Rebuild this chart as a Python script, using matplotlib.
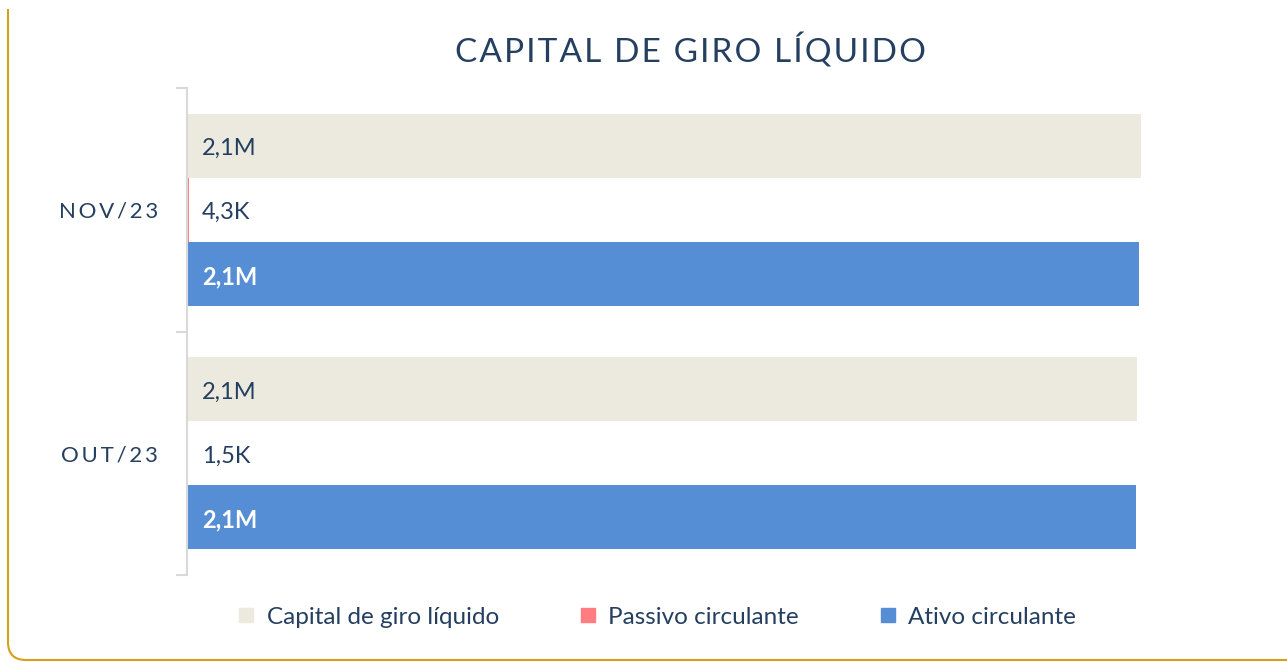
import numpy as np
import matplotlib
matplotlib.use("Agg")
import matplotlib.pyplot as plt
from matplotlib.lines import Line2D
from matplotlib.path import Path
from matplotlib.patches import PathPatch

# data
categories = ["OUT/23", "NOV/23"]
series_names = ["Capital de giro líquido", "Passivo circulante", "Ativo circulante"]
capital = [2124500, 2134300]
passivo = [1500, 4300]
ativo = [2123000, 2130000]

colors = ["#ECEADF", "#FF7C80", "#558ED5"]
label_colors = ["#243F60", "#243F60", "white"]
navy = "#243F60"

plt.rcParams['font.family'] = ['Lato', 'DejaVu Sans']


def fmt(v):
    if v >= 1e6:
        return "{:.1f}M".format(v / 1e6).replace(".", ",")
    return "{:.1f}K".format(v / 1e3).replace(".", ",")


def spaced(s, sep="\u2009"):
    return sep.join(s)


fig = plt.figure(figsize=(12.87, 6.62), dpi=100)
W, H = 1287, 662
ax = fig.add_axes([187 / W, 1 - 575 / H, (1141 - 187) / W, (575 - 88) / H])

h = 64 / 243
y = np.arange(len(categories))
offsets = [h, 0, -h]
for vals, off, c, lc in zip([capital, passivo, ativo], offsets, colors, label_colors):
    ax.barh(y + off, vals, height=h, color=c, edgecolor='none')
    for yi, v in zip(y, vals):
        ax.annotate(fmt(v), xy=(0, yi + off), xytext=(15, -3), textcoords='offset pixels',
                    va='center', ha='left', fontsize=17, color=lc,
                    fontweight='bold' if lc == 'white' else 'normal')

ax.set_xlim(0, max(capital))
ax.set_ylim(-0.5, len(categories) - 0.5)
ax.set_xticks([])
ax.set_yticks(y)
ax.set_yticklabels([spaced(c, "\u2009") for c in categories], fontsize=16, color=navy)
ax.set_yticks([-0.5, 0.5, 1.5], minor=True)
ax.tick_params(axis='y', which='major', length=0, pad=21)
ax.tick_params(axis='y', which='minor', length=8, width=1.5, color='#D9D9D9')
for s in ['top', 'right', 'bottom']:
    ax.spines[s].set_visible(False)
ax.spines['left'].set_color('#D9D9D9')
ax.spines['left'].set_linewidth(1.5)

fig.text(690 / W, 1 - 51 / H, spaced("CAPITAL DE GIRO LÍQUIDO", "\u200a"), ha='center', va='center',
         fontsize=24, color=navy)

# legend
handles = [Line2D([], [], marker='s', linestyle='none', markersize=10, color=c) for c in colors]
fig.legend(handles, series_names, loc='center', bbox_to_anchor=(657 / W, 1 - 617 / H), ncol=3,
           frameon=False, fontsize=17.5, labelcolor=navy, columnspacing=3.3,
           handlelength=0.7, handletextpad=0.5)

# golden frame, left and bottom with rounded corner
r = 18
px = lambda x, yy: (x / W, 1 - yy / H)
verts = [px(8, 9), px(8, 660 - r), px(8, 660), px(8 + r, 660), px(1287, 660)]
codes = [Path.MOVETO, Path.LINETO, Path.CURVE3, Path.CURVE3, Path.LINETO]
fig.patches.append(PathPatch(Path(verts, codes), transform=fig.transFigure, fill=False,
                             edgecolor='#D4A017', linewidth=1.5))

fig.savefig("out.png", dpi=100)
